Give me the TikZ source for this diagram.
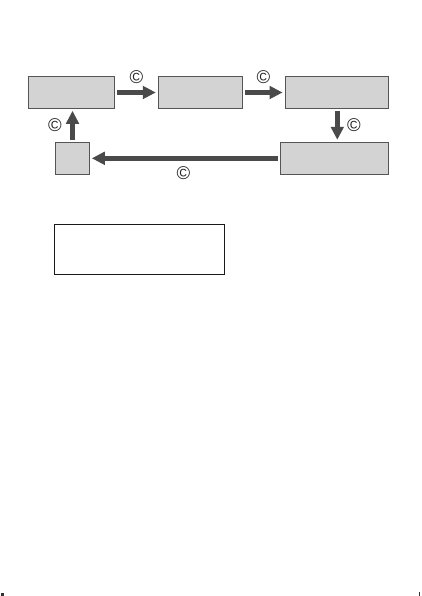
\documentclass[tikz,border=0pt]{standalone}
\usepackage{fontspec}
\setmainfont{Liberation Sans}
\usetikzlibrary{arrows.meta}
\definecolor{boxfill}{HTML}{D3D3D3}
\definecolor{boxline}{HTML}{555555}
\definecolor{arrowcol}{HTML}{4A4A4A}
\tikzset{
  graybox/.style={draw=boxline, line width=0.9pt, fill=boxfill, inner sep=0pt, outer sep=0pt},
  flow/.style={draw=arrowcol, line width=4.6pt, -{Triangle[width=12.5pt,length=13pt]}, shorten <=2.5pt, shorten >=2.5pt},
  cmark/.style={inner sep=0pt, font=\fontsize{18.5}{18.5}\selectfont, text=black!85},
}
\begin{document}
\begin{tikzpicture}[x=1pt,y=-1pt]
\useasboundingbox (0,0) rectangle (421,596);
% boxes
\node[graybox, minimum width=86pt, minimum height=31.6pt] (b1) at (71.3,92.5) {};
\node[graybox, minimum width=84pt, minimum height=31.6pt] (b2) at (200.3,92.5) {};
\node[graybox, minimum width=103.3pt, minimum height=31.6pt] (b3) at (336.7,92.5) {};
\node[graybox, minimum width=108.3pt, minimum height=32pt] (b4) at (334.2,158.3) {};
\node[graybox, minimum width=33.6pt, minimum height=32pt] (b5) at (72.5,158.3) {};
% arrows
\draw[flow] (b1.east) -- (b2.west);
\draw[flow] (b2.east) -- (b3.west);
\draw[flow] (b3.south -| 337.3,0) -- (b4.north -| 337.3,0);
\draw[flow] (b4.west) -- (b5.east);
\draw[flow] (b5.north) -- (b5.north |- b1.south);
% copyright marks
\node[cmark] (c1) at (136.5,77.5) {©};
\node[cmark] (c2) at (263.5,77.5) {©};
\node[cmark] (c3) at (354,125.5) {©};
\node[cmark] (c4) at (183.5,173) {©};
\node[cmark] (c5) at (55,125.5) {©};
% lower empty frame
\node[draw=black!90, line width=0.9pt, fill=white, minimum width=170pt, minimum height=49.7pt, inner sep=0pt] (frame) at (139.3,249.2) {};
% corner marks
\fill[black!80] (1,593) rectangle (3.5,596);
\fill[black!80] (418.5,592) rectangle (420,596);
\end{tikzpicture}
\end{document}
